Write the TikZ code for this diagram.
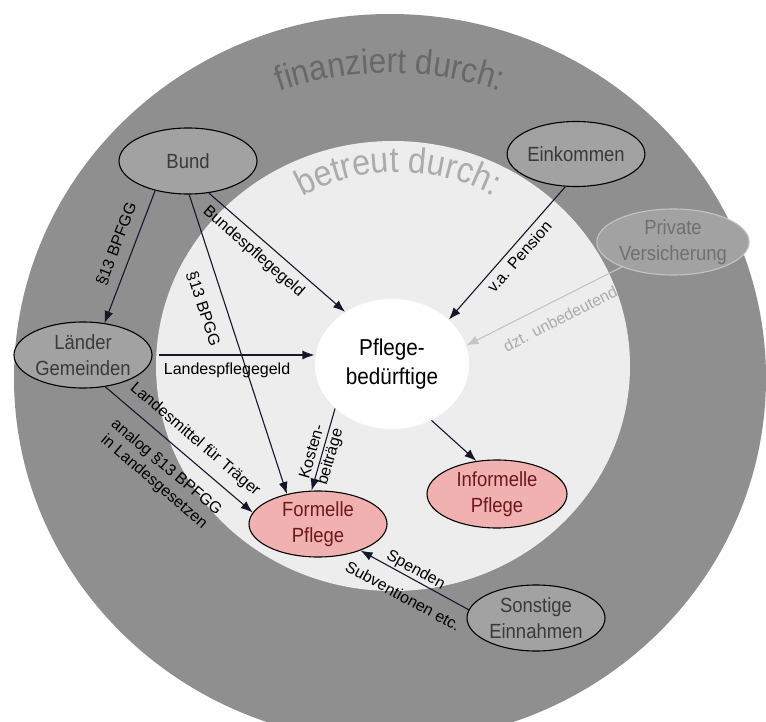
\documentclass[tikz,border=0pt]{standalone}
\usepackage{fontspec}
\setmainfont{Liberation Sans}
\newfontfamily\schmal[FakeStretch=0.9]{Liberation Sans}
\usetikzlibrary{shapes.geometric,arrows.meta,decorations.text}

\definecolor{outergray}{HTML}{8F8F8F}
\definecolor{innergray}{HTML}{EDEDED}
\definecolor{nodegray}{HTML}{A2A2A2}
\definecolor{textgray}{HTML}{3A3A3A}
\definecolor{pinkfill}{HTML}{F2B1B1}
\definecolor{pinktext}{HTML}{6A1A1A}
\definecolor{arrowcol}{HTML}{16162A}
\definecolor{privline}{HTML}{C4C4C4}
\definecolor{privtext}{HTML}{707070}
\definecolor{privlabel}{HTML}{ABABAB}
\definecolor{titledark}{HTML}{686868}
\definecolor{titlelight}{HTML}{ABABAB}

\begin{document}
\begin{tikzpicture}[x=1pt,y=-1pt,line width=1.1pt,>={Latex[length=12pt,width=9pt]},
    geber/.style={ellipse,draw=black,fill=nodegray,text=textgray,inner sep=0pt,
      minimum width=138pt,minimum height=66pt,align=center,font=\schmal\fontsize{20.5}{26}\selectfont},
    pflegeart/.style={geber,fill=pinkfill,text=pinktext},
    fluss/.style={->,draw=arrowcol},
    etikett/.style={sloped,inner sep=2pt,align=center,font=\fontsize{16}{19}\selectfont}]
  \clip (0,0) rectangle (766,722);
  % rings
  \fill[outergray] (390,378) ellipse [x radius=376,y radius=364];
  \fill[innergray] (393,366) ellipse [x radius=237,y radius=225];
  % ring titles
  \path[decorate,decoration={text along path,text align=center,
      text={|\schmal\fontsize{35}{35}\selectfont\color{titledark}|finanziert durch:}}]
    (390,413) ++(240:340) arc [start angle=240,end angle=300,radius=340];
  \path[decorate,decoration={text along path,text align=center,
      text={|\schmal\fontsize{36}{36}\selectfont\color{titlelight}|betreut durch:}}]
    (398,372) ++(225:200) arc [start angle=225,end angle=315,radius=200];
  % sources
  \node[geber] (bund) at (188,161) {Bund};
  \node[geber,minimum width=136pt,minimum height=65pt] (einkommen) at (576,154) {Einkommen};
  \node[geber,draw=privline,text=privtext] (privat) at (673,242) {Private\\Versicherung};
  \node[geber] (laender) at (83,355) {Länder\\Gemeinden};
  \node[geber] (sonstige) at (536,618) {Sonstige\\Einnahmen};
  % Pflegebeduerftige
  \node[ellipse,fill=white,inner sep=0pt,minimum width=154pt,minimum height=130pt,
    align=center,font=\schmal\fontsize{23}{29}\selectfont] (pflege) at (392,364) {Pflege-\\bedürftige};
  % care forms
  \node[pflegeart] (formell) at (318,524) {Formelle\\Pflege};
  \node[pflegeart,minimum width=140pt,minimum height=68pt] (informell) at (497,494) {Informelle\\Pflege};
  % money flows
  \draw[fluss] (bund.222) -- node[etikett,pos=0.45,above=8pt] {§13 BPFGG} (laender.56);
  \draw[fluss] (bund.272) -- node[etikett,pos=0.36,below=13pt] {§13 BPGG} (formell.136);
  \draw[fluss] (bund.303) -- node[etikett,pos=0.4,below=5pt] {Bundespflegegeld} (pflege.132);
  \draw[fluss] (einkommen.252) -- node[etikett,pos=0.47,below=3pt] {v.a. Pension} (pflege.38);
  \draw[fluss,draw=privline] (privat.206) -- node[etikett,text=privlabel,pos=0.45,below=10pt] {dzt. unbedeutend} (pflege.14);
  \draw[fluss,shorten <=6pt] (laender.east) -- node[etikett,pos=0.46,below=5pt] {Landespflegegeld} (laender.east -| pflege.west);
  \draw[fluss] (laender.305) -- node[etikett,pos=0.53,above=8pt] {Landesmittel für Träger}
    node[etikett,pos=0.51,below=12pt] {analog §13 BPFGG\\in Landesgesetzen} (formell.170);
  % care
  \draw[fluss] (pflege.218) -- node[etikett,pos=0.56] {Kosten-\\beiträge} (formell.101);
  \draw[fluss] (pflege.305) -- (informell.122);
  \draw[fluss] (sonstige.173) -- node[etikett,pos=0.53,above=-1pt] {Spenden}
    node[etikett,pos=0.52,below=11pt] {Subventionen etc.} (formell.328);
\end{tikzpicture}
\end{document}
